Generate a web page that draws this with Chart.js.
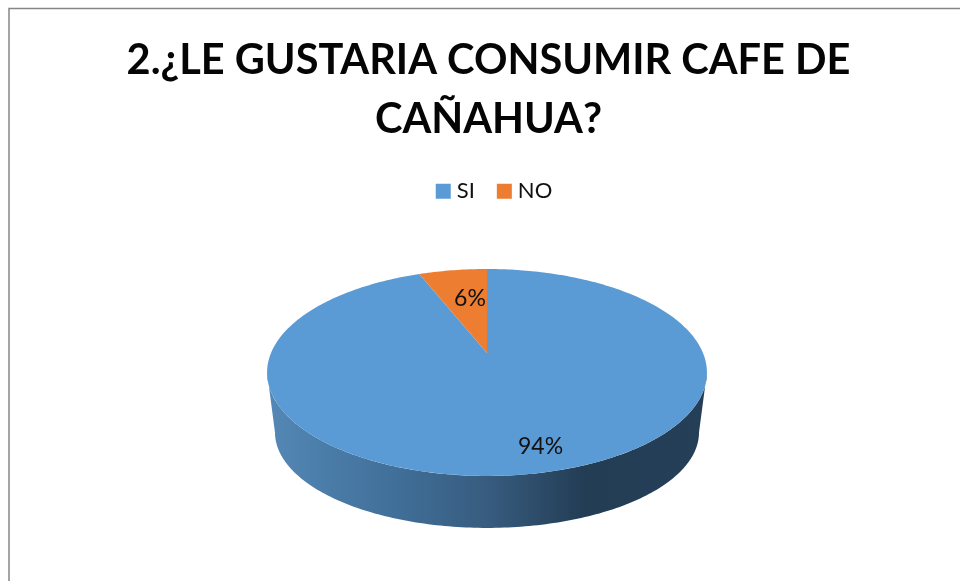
<!DOCTYPE html>
<html>
<head>
<meta charset="utf-8">
<script src="https://cdn.jsdelivr.net/npm/chart.js@4"></script>
<style>
  html, body { margin: 0; padding: 0; background: #fff; overflow: hidden; }
  #wrap { position: absolute; left: 0; top: 0; width: 960px; height: 581px; }
</style>
</head>
<body>
<div id="wrap"><canvas id="pie"></canvas></div>
<script>
const titleLines = ["2.¿LE GUSTARIA CONSUMIR CAFE DE", "CAÑAHUA?"];
const categories = ["SI", "NO"];
const values = [94, 6];
const sliceColors = ["#5B9BD5", "#ED7D31"];

const FONT = "Lato, Carlito, Calibri, sans-serif";

// the picture is a tilted disc, so angles go through a perspective projection
const apex = { x: 487, y: 353 };
const persp = -0.188;
const spreadX = 216;
const spreadY = 99.8;
const rimMid = 372;   // y of the widest points of the top face
const rimLow = 432;   // same for the lower edge of the wall
const rimFlat = 0.923;
const rimNarrow = 0.964;
const rimAngle = 0.19;

function project(a, f) {
  const u = Math.cos(a) * f;
  const v = Math.sin(a) * f;
  const w = 1 + persp * v;
  return { x: apex.x + spreadX * u / w, y: apex.y + spreadY * v / w };
}

function traceTop(ctx, start, end) {
  const steps = Math.max(8, Math.ceil(Math.abs(end - start) * 60));
  for (let i = 0; i <= steps; i++) {
    const p = project(start + (end - start) * i / steps, 1);
    ctx.lineTo(p.x, p.y);
  }
}

function traceLow(ctx, start, end) {
  const steps = Math.max(8, Math.ceil(Math.abs(end - start) * 60));
  for (let i = 0; i <= steps; i++) {
    const p = project(start + (end - start) * i / steps, 1);
    ctx.lineTo(apex.x + (p.x - apex.x) * rimNarrow, rimLow + (p.y - rimMid) * rimFlat);
  }
}

const tiltedPie = {
  id: "tiltedPie",
  afterLayout(chart) {
    // legend sits a little right of the title in the picture
    chart.legend.left += 8;
    chart.legend.right += 8;
  },
  beforeDraw(chart) {
    const ctx = chart.ctx;
    ctx.save();
    ctx.strokeStyle = "#868686";
    ctx.lineWidth = 1.5;
    ctx.beginPath();
    ctx.moveTo(9, 581);
    ctx.lineTo(9, 8.5);
    ctx.lineTo(960, 8.5);
    ctx.stroke();
    ctx.restore();
  },
  beforeDatasetDraw(chart) {
    const ctx = chart.ctx;
    const arcs = chart.getDatasetMeta(0).data;

    // side wall
    const wall = ctx.createLinearGradient(267, 0, 707, 0);
    wall.addColorStop(0, "#5488B6");
    wall.addColorStop(0.28, "#41709A");
    wall.addColorStop(0.5, "#375C7F");
    wall.addColorStop(0.72, "#233D55");
    wall.addColorStop(1, "#243F57");
    ctx.save();
    ctx.fillStyle = wall;
    ctx.beginPath();
    traceTop(ctx, rimAngle, Math.PI - rimAngle);
    traceLow(ctx, Math.PI - rimAngle, rimAngle);
    ctx.closePath();
    ctx.fill();

    // top face
    arcs.forEach((arc) => {
      ctx.fillStyle = arc.options.backgroundColor;
      ctx.beginPath();
      ctx.moveTo(apex.x, apex.y);
      traceTop(ctx, arc.startAngle, arc.endAngle);
      ctx.closePath();
      ctx.fill();
    });
    ctx.restore();
    return false;
  },
  afterDatasetsDraw(chart) {
    const ctx = chart.ctx;
    const arcs = chart.getDatasetMeta(0).data;
    const total = values.reduce((s, v) => s + v, 0);
    const labelRadius = [0.81, 0.62];
    const labelShift = [15, 5.5];
    ctx.save();
    ctx.font = "23px " + FONT;
    ctx.fillStyle = "#111";
    ctx.textAlign = "center";
    ctx.textBaseline = "middle";
    arcs.forEach((arc, i) => {
      const p = project((arc.startAngle + arc.endAngle) / 2, labelRadius[i]);
      ctx.fillText(Math.round(values[i] / total * 100) + "%", p.x + labelShift[i], p.y);
    });
    ctx.restore();
  }
};

new Chart(document.getElementById("pie").getContext("2d"), {
  type: "pie",
  data: {
    labels: categories,
    datasets: [{
      data: values,
      backgroundColor: sliceColors,
      borderWidth: 0
    }]
  },
  options: {
    responsive: true,
    maintainAspectRatio: false,
    animation: false,
    layout: { padding: { top: 32, left: 17 } },
    plugins: {
      tooltip: { enabled: false },
      title: {
        display: true,
        text: titleLines,
        color: "#050505",
        font: { family: FONT, size: 41.5, weight: "bold", lineHeight: 1.4 },
        padding: { top: 0, bottom: 5 }
      },
      legend: {
        display: true,
        position: "top",
        labels: {
          color: "#111",
          font: { family: FONT, size: 22 },
          usePointStyle: true,
          pointStyle: "rect",
          boxWidth: 5,
          boxHeight: 15,
          padding: 27
        }
      }
    }
  },
  plugins: [tiltedPie]
});
</script>
</body>
</html>
